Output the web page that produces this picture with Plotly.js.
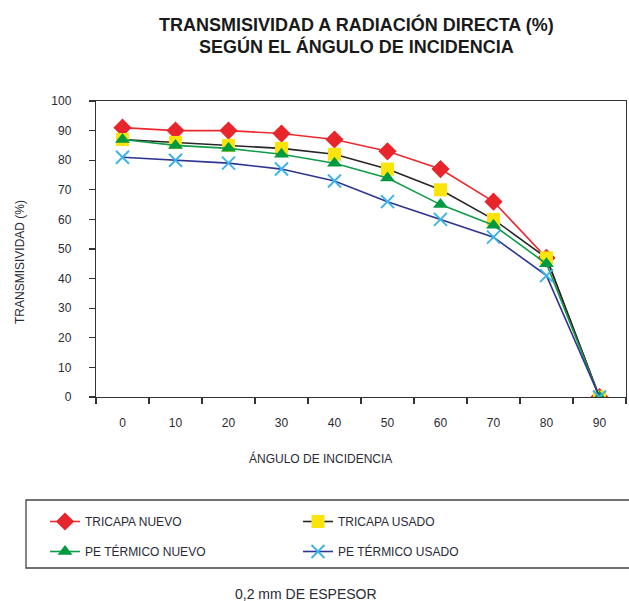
<!DOCTYPE html>
<html>
<head>
<meta charset="utf-8">
<script src="https://cdn.plot.ly/plotly-3.0.1.min.js"></script>
<style>html,body{margin:0;padding:0;background:#fff;}#chart{width:629px;height:601px;}</style>
</head>
<body>
<div id="chart"></div>
<script>
var angles = ['0', '10', '20', '30', '40', '50', '60', '70', '80', '90'];
var tricapaNuevo = [91, 90, 90, 89, 87, 83, 77, 66, 47, 0];
var tricapaUsado = [87, 86, 85, 84, 82, 77, 70, 60, 47, 0];
var peTermicoNuevo = [87, 85, 84, 82, 79, 74, 65, 58, 45, 0];
var peTermicoUsado = [81, 80, 79, 77, 73, 66, 60, 54, 41, 0];
var seriesNames = ['TRICAPA NUEVO', 'TRICAPA USADO', 'PE TÉRMICO NUEVO', 'PE TÉRMICO USADO'];

var FONT = '"Liberation Sans", Arial, sans-serif';
var TXT = '#2a2a35';

// plot area in pixels: left 96, right 626, top 101, bottom 397
function px(xp) { return (xp - 96) / 530; }
function py(yp) { return (397 - yp) / 296; }

var traces = [
  {x: angles, y: tricapaNuevo, name: seriesNames[0], mode: 'lines+markers', legend: 'legend',
   line: {color: '#ec2a2f', width: 1.6},
   marker: {symbol: 'diamond', size: 14, color: '#e8252b'}},
  {x: angles, y: tricapaUsado, name: seriesNames[1], mode: 'lines+markers', legend: 'legend',
   line: {color: '#262626', width: 1.6},
   marker: {symbol: 'square', size: 13, color: '#fbe40c'}},
  {x: angles, y: peTermicoNuevo, name: seriesNames[2], mode: 'lines+markers', legend: 'legend2',
   line: {color: '#0f9d48', width: 1.6},
   marker: {symbol: 'triangle-up', size: 13, color: '#009a40'}},
  {x: angles, y: peTermicoUsado, name: seriesNames[3], mode: 'lines+markers', legend: 'legend2',
   line: {color: '#2e3590', width: 1.6},
   marker: {symbol: 'x-thin', size: 13, color: '#3bb4ea', line: {color: '#3bb4ea', width: 2}}}
];

var legendCommon = {
  orientation: 'h', xanchor: 'left', yanchor: 'top',
  bgcolor: 'rgba(0,0,0,0)', borderwidth: 0,
  font: {family: FONT, size: 12, color: TXT},
  itemwidth: 30, entrywidth: 208, entrywidthmode: 'pixels',
  itemclick: false, itemdoubleclick: false
};

var layout = {
  width: 629, height: 601,
  margin: {l: 96, r: 3, t: 101, b: 204, autoexpand: false},
  paper_bgcolor: '#ffffff', plot_bgcolor: '#ffffff',
  font: {family: FONT, color: TXT, size: 12},
  showlegend: true,
  xaxis: {
    type: 'category',
    range: [-0.5, 9.5],
    tickson: 'boundaries',
    ticks: 'outside', ticklen: 6, tickwidth: 1.2, tickcolor: '#333',
    showline: true, linecolor: '#333', linewidth: 1.2, mirror: true,
    showgrid: false, zeroline: false,
    ticklabelstandoff: 14,
    tickfont: {family: FONT, size: 12, color: TXT},
    fixedrange: true
  },
  yaxis: {
    range: [0, 100], dtick: 10, tick0: 0,
    ticks: 'outside', ticklen: 6, tickwidth: 1.2, tickcolor: '#333',
    showline: true, linecolor: '#333', linewidth: 1.2, mirror: true,
    showgrid: false, zeroline: false,
    ticklabelstandoff: 15,
    tickfont: {family: FONT, size: 12, color: TXT},
    fixedrange: true
  },
  legend: Object.assign({}, legendCommon, {x: px(45), y: py(507)}),
  legend2: Object.assign({}, legendCommon, {x: px(45), y: py(537)}),
  shapes: [
    {type: 'rect', xref: 'paper', yref: 'paper',
     x0: px(26), x1: px(640),
     y0: py(568), y1: py(500),
     line: {color: '#444', width: 1.3}, fillcolor: 'rgba(0,0,0,0)'}
  ],
  annotations: [
    {text: '<b>TRANSMISIVIDAD A RADIACIÓN DIRECTA (%)</b>', xref: 'paper', yref: 'paper',
     x: px(356), y: py(25), xanchor: 'center', yanchor: 'middle', showarrow: false,
     font: {family: FONT, size: 18, color: '#1a1a1a'}},
    {text: '<b>SEGÚN EL ÁNGULO DE INCIDENCIA</b>', xref: 'paper', yref: 'paper',
     x: px(356), y: py(47), xanchor: 'center', yanchor: 'middle', showarrow: false,
     font: {family: FONT, size: 18, color: '#1a1a1a'}},
    {text: 'TRANSMISIVIDAD (%)', xref: 'paper', yref: 'paper',
     x: px(20), y: py(262), xanchor: 'center', yanchor: 'middle', textangle: -90,
     showarrow: false, font: {family: FONT, size: 12, color: TXT}},
    {text: 'ÁNGULO DE INCIDENCIA', xref: 'paper', yref: 'paper',
     x: px(320), y: py(458), xanchor: 'center', yanchor: 'middle',
     showarrow: false, font: {family: FONT, size: 12, color: TXT}},
    {text: '0,2 mm DE ESPESOR', xref: 'paper', yref: 'paper',
     x: px(306), y: py(594), xanchor: 'center', yanchor: 'middle',
     showarrow: false, font: {family: FONT, size: 14, color: TXT}}
  ]
};

Plotly.newPlot('chart', traces, layout, {displayModeBar: false, staticPlot: true});
</script>
</body>
</html>
